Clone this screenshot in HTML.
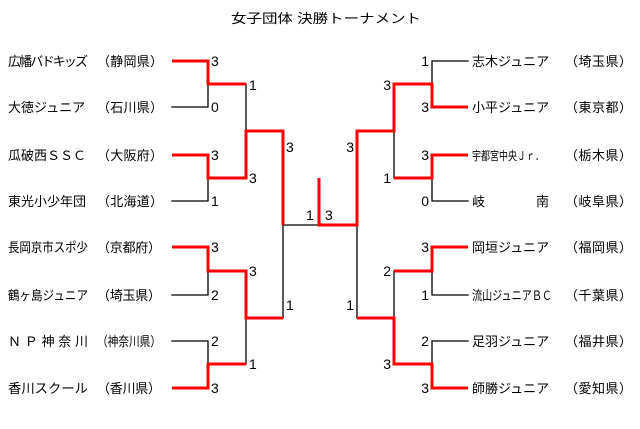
<!DOCTYPE html>
<html><head><meta charset="utf-8"><style>
html,body{margin:0;padding:0;background:#fff;}
svg{display:block;}
text{font-family:"Liberation Sans","Noto Sans CJK JP",sans-serif;font-size:13px;fill:#000;}
.s{font-size:14px;}
</style></head><body>
<svg width="640" height="429" viewBox="0 0 640 429" xmlns="http://www.w3.org/2000/svg">
<text x="231" y="23" textLength="190" lengthAdjust="spacingAndGlyphs">女子団体 決勝トーナメント</text>
<g fill="none" stroke-linecap="square">
<g stroke="#000" stroke-width="1.3">
<polyline points="172,107 208,107 208,84"/>
<polyline points="172,201 208,201 208,178"/>
<polyline points="172,295 208,295 208,271"/>
<polyline points="172,341 208,341 208,364"/>
<polyline points="246,84 246,131"/>
<polyline points="246,318 246,364"/>
<polyline points="283,225 319,225"/>
<polyline points="283,225 283,318"/>
<polyline points="468,61 432,61 432,84"/>
<polyline points="468,201 432,201 432,178"/>
<polyline points="468,295 432,295 432,271"/>
<polyline points="468,341 432,341 432,364"/>
<polyline points="394,131 394,178"/>
<polyline points="394,271 394,318"/>
<polyline points="357,225 357,318"/>
</g>
<g stroke="#f00" stroke-width="3" stroke-linejoin="miter" stroke-linecap="butt">
<polyline points="172,61 208,61 208,84 246,84"/>
<polyline points="172,155 208,155 208,178 246,178 246,131 283,131 283,225"/>
<polyline points="172,247 208,247 208,271 246,271 246,318 283,318"/>
<polyline points="172,388 208,388 208,364 246,364"/>
<polyline points="319,178 319,225 357,225 357,131 394,131 394,84 432,84 432,107 468,107"/>
<polyline points="468,155 432,155 432,178 394,178"/>
<polyline points="468,247 432,247 432,271 394,271"/>
<polyline points="468,388 432,388 432,364 394,364 394,318 357,318"/>
</g>
</g>
<g>
<text x="8" y="66" textLength="80" lengthAdjust="spacing">広幡バドキッズ</text><text x="97" y="66" textLength="66" lengthAdjust="spacing">（静岡県）</text>
<text x="8" y="112">大徳ジュニア</text><text x="97" y="112" textLength="66" lengthAdjust="spacing">（石川県）</text>
<text x="8" y="160" textLength="78" lengthAdjust="spacing">瓜破西ＳＳＣ</text><text x="97" y="160" textLength="66" lengthAdjust="spacing">（大阪府）</text>
<text x="8" y="206" textLength="78" lengthAdjust="spacing">東光小少年団</text><text x="97" y="206" textLength="66" lengthAdjust="spacing">（北海道）</text>
<text x="8" y="252" textLength="80" lengthAdjust="spacingAndGlyphs">長岡京市スポ少</text><text x="97" y="252" textLength="64" lengthAdjust="spacing">（京都府）</text>
<text x="8" y="300" textLength="80" lengthAdjust="spacingAndGlyphs">鶴ヶ島ジュニア</text><text x="97" y="300" textLength="64" lengthAdjust="spacing">（埼玉県）</text>
<text x="8" y="346" textLength="80" lengthAdjust="spacing">ＮＰ神奈川</text><text x="97" y="346" textLength="64" lengthAdjust="spacingAndGlyphs">（神奈川県）</text>
<text x="8" y="393" textLength="80" lengthAdjust="spacingAndGlyphs">香川スクール</text><text x="97" y="393" textLength="64" lengthAdjust="spacing">（香川県）</text>
</g>
<g>
<text x="472" y="66">志木ジュニア</text><text x="565" y="66" textLength="67" lengthAdjust="spacing">（埼玉県）</text>
<text x="472" y="112">小平ジュニア</text><text x="565" y="112" textLength="67" lengthAdjust="spacing">（東京都）</text>
<text x="472" y="160" textLength="72" lengthAdjust="spacingAndGlyphs" style="font-size:12px">宇都宮中央Ｊｒ．</text><text x="565" y="160" textLength="67" lengthAdjust="spacing">（栃木県）</text>
<text x="472" y="206">岐</text><text x="536" y="206">南</text><text x="565" y="206" textLength="67" lengthAdjust="spacing">（岐阜県）</text>
<text x="472" y="252">岡垣ジュニア</text><text x="565" y="252" textLength="67" lengthAdjust="spacing">（福岡県）</text>
<text x="472" y="300" textLength="80" lengthAdjust="spacingAndGlyphs">流山ジュニアＢＣ</text><text x="565" y="300" textLength="67" lengthAdjust="spacing">（千葉県）</text>
<text x="472" y="346">足羽ジュニア</text><text x="565" y="346" textLength="67" lengthAdjust="spacing">（福井県）</text>
<text x="472" y="393">師勝ジュニア</text><text x="565" y="393" textLength="67" lengthAdjust="spacing">（愛知県）</text>
</g>
<g class="s">
<text class="s" x="211" y="66">3</text><text class="s" x="211" y="112">0</text>
<text class="s" x="211" y="160">3</text><text class="s" x="211" y="206">1</text>
<text class="s" x="211" y="252">3</text><text class="s" x="211" y="300">2</text>
<text class="s" x="211" y="346">2</text><text class="s" x="211" y="393">3</text>
<text class="s" x="249" y="90">1</text><text class="s" x="249" y="183">3</text>
<text class="s" x="249" y="276">3</text><text class="s" x="249" y="369">1</text>
<text class="s" x="286" y="152">3</text><text class="s" x="286" y="310">1</text>
<text class="s" x="306" y="220">1</text><text class="s" x="325" y="220">3</text>
</g>
<g text-anchor="end">
<text class="s" x="429" y="66">1</text><text class="s" x="429" y="112">3</text>
<text class="s" x="429" y="160">3</text><text class="s" x="429" y="206">0</text>
<text class="s" x="429" y="252">3</text><text class="s" x="429" y="300">1</text>
<text class="s" x="429" y="346">2</text><text class="s" x="429" y="393">3</text>
<text class="s" x="391" y="90">3</text><text class="s" x="391" y="183">1</text>
<text class="s" x="391" y="276">2</text><text class="s" x="391" y="369">3</text>
<text class="s" x="354" y="152">3</text><text class="s" x="354" y="310">1</text>
</g>
</svg>
</body></html>
